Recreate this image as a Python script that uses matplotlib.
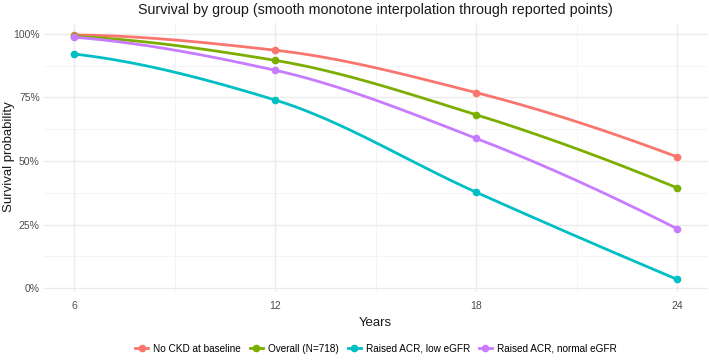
import numpy as np
import matplotlib
matplotlib.use("Agg")
import matplotlib.pyplot as plt
from matplotlib.ticker import FuncFormatter

plt.rcParams["font.family"] = ["Liberation Sans", "DejaVu Sans"]

# datos
years = [6, 12, 18, 24]
groups = ["No CKD at baseline", "Overall (N=718)", "Raised ACR, low eGFR", "Raised ACR, normal eGFR"]
no_ckd = [0.996, 0.936, 0.769, 0.516]
overall = [0.990, 0.896, 0.682, 0.394]
acr_low = [0.921, 0.740, 0.377, 0.034]
acr_normal = [0.987, 0.857, 0.589, 0.233]
colores = ["#F8766D", "#7CAE00", "#00BFC4", "#C77CFF"]


def pchip(x, y, xs):
    # interpolacion monotona (Fritsch-Carlson)
    x = np.asarray(x, float)
    y = np.asarray(y, float)
    h = np.diff(x)
    d = np.diff(y) / h
    n = len(x)
    m = np.zeros(n)
    for k in range(1, n - 1):
        if d[k - 1] * d[k] > 0:
            w1 = 2 * h[k] + h[k - 1]
            w2 = h[k] + 2 * h[k - 1]
            m[k] = (w1 + w2) / (w1 / d[k - 1] + w2 / d[k])
    m[0] = ((2 * h[0] + h[1]) * d[0] - h[0] * d[1]) / (h[0] + h[1])
    if np.sign(m[0]) != np.sign(d[0]):
        m[0] = 0
    m[-1] = ((2 * h[-1] + h[-2]) * d[-1] - h[-1] * d[-2]) / (h[-1] + h[-2])
    if np.sign(m[-1]) != np.sign(d[-1]):
        m[-1] = 0
    out = np.empty_like(xs)
    for i, xv in enumerate(xs):
        k = min(np.searchsorted(x, xv, side="right") - 1, n - 2)
        t = (xv - x[k]) / h[k]
        h00 = 2 * t**3 - 3 * t**2 + 1
        h10 = t**3 - 2 * t**2 + t
        h01 = -2 * t**3 + 3 * t**2
        h11 = t**3 - t**2
        out[i] = h00 * y[k] + h10 * h[k] * m[k] + h01 * y[k + 1] + h11 * h[k] * m[k + 1]
    return out


fig = plt.figure(figsize=(7.09, 3.61), dpi=100)
ax = fig.add_axes([0.062, 0.192, 0.936, 0.745])

xs = np.linspace(6, 24, 300)
series = [no_ckd, overall, acr_low, acr_normal]
for i in range(len(groups)):
    ax.plot(xs, pchip(years, series[i], xs), color=colores[i], linewidth=2, zorder=3)
    ax.plot(years, series[i], "o", color=colores[i], markersize=4.5, zorder=4)
    ax.plot([], [], color=colores[i], linewidth=2, marker="o", markersize=4.5, label=groups[i])

ax.set_xlim(5.1, 24.9)
ax.set_ylim(-0.014, 1.044)
ax.set_xticks(years)
ax.set_xticks([9, 15, 21], minor=True)
ax.set_yticks([0, 0.25, 0.5, 0.75, 1.0])
ax.set_yticks([0.125, 0.375, 0.625, 0.875], minor=True)
ax.yaxis.set_major_formatter(FuncFormatter(lambda v, p: f"{v*100:.0f}%"))
ax.grid(True, which="major", color="#EBEBEB", linewidth=1.0)
ax.grid(True, which="minor", color="#F2F2F2", linewidth=0.6)
ax.set_axisbelow(True)
for s in ax.spines.values():
    s.set_visible(False)
ax.tick_params(which="both", length=0, labelsize=7.5, labelcolor="#4D4D4D")
ax.tick_params(axis="y", pad=3)
ax.tick_params(axis="x", pad=7)

ax.set_title("Survival by group (smooth monotone interpolation through reported points)",
             fontsize=10.3, color="#1A1A1A", pad=6)
ax.set_xlabel("Years", fontsize=9.5, color="#1A1A1A", labelpad=4)
fig.text(0.012, 0.565, "Survival probability", rotation=90, fontsize=9.5,
         color="#1A1A1A", ha="center", va="center")

fig.legend(loc="lower center", ncol=4, frameon=False, fontsize=7.2,
           bbox_to_anchor=(0.53, -0.005), handlelength=1.3, columnspacing=0.9,
           handletextpad=0.5)

plt.savefig("out.png", dpi=100, facecolor="white")
